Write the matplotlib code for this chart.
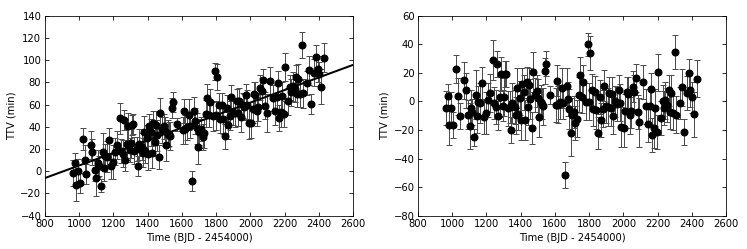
import numpy as np
import matplotlib
matplotlib.use('Agg')
import matplotlib.pyplot as plt

# transit times (BJD - 2454000) and TTV values (min)
time = [962, 975, 981, 993, 1006, 1020, 1032, 1043, 1067, 1078,
        1094, 1101, 1109, 1117, 1125, 1137, 1146, 1152, 1164, 1172,
        1187, 1199, 1207, 1222, 1238, 1246, 1257, 1263, 1269, 1281,
        1287, 1296, 1302, 1308, 1316, 1323, 1335, 1343, 1351, 1365,
        1374, 1378, 1386, 1394, 1401, 1409, 1419, 1427, 1434, 1440,
        1448, 1456, 1466, 1473, 1485, 1493, 1499, 1506, 1516, 1526,
        1532, 1540, 1547, 1573, 1604, 1610, 1617, 1627, 1639, 1648,
        1660, 1670, 1676, 1685, 1693, 1699, 1709, 1720, 1728, 1738,
        1748, 1756, 1765, 1783, 1791, 1798, 1806, 1814, 1822, 1834,
        1842, 1853, 1861, 1870, 1880, 1888, 1900, 1911, 1919, 1927,
        1934, 1942, 1954, 1964, 1972, 1981, 1989, 2001, 2012, 2020,
        2028, 2036, 2045, 2055, 2065, 2075, 2084, 2094, 2113, 2133,
        2145, 2153, 2162, 2168, 2178, 2183, 2195, 2203, 2219, 2230,
        2238, 2246, 2258, 2265, 2273, 2280, 2289, 2300, 2308, 2332,
        2340, 2355, 2371, 2381, 2392, 2400, 2413, 2429]

ttv = [-1.5, 7.2, -12.4, 0.3, -11.0, 28.8, 10.5, -2.8, 23.6, 17.2,
       1.2, -6.4, 7.0, 4.5, -13.0, 17.7, 3.2, 13.5, 13.2, 27.7,
       4.6, 8.3, 17.7, 23.6, 47.6, 18.0, 15.7, 46.0, 10.4, 24.1,
       40.4, 18.9, 25.3, 41.6, 42.1, 18.5, 20.2, 4.7, 24.1, 22.0,
       16.5, 35.7, 18.2, 29.7, 15.1, 40.5, 35.1, 16.6, 43.0, 26.3,
       41.8, 32.3, 12.9, 52.3, 37.0, 40.4, 35.8, 23.2, 33.8, 33.4,
       31.7, 57.2, 62.6, 42.1, 36.9, 54.3, 37.7, 40.2, 50.9, 40.5,
       -8.8, 53.8, 45.1, 38.6, 22.1, 35.4, 38.0, 30.7, 34.1, 51.7,
       66.3, 50.8, 62.3, 49.3, 89.8, 50.2, 84.7, 59.2, 46.6, 59.3,
       46.8, 31.4, 56.9, 41.4, 50.0, 66.5, 53.2, 52.8, 63.3, 52.7,
       63.2, 48.6, 59.3, 57.9, 68.4, 59.9, 43.4, 43.1, 55.7, 69.2,
       68.6, 54.1, 57.6, 75.2, 71.8, 82.4, 58.9, 52.5, 81.6, 65.8,
       54.5, 66.9, 79.5, 47.8, 53.4, 67.7, 51.4, 93.8, 62.8, 75.4,
       70.9, 76.4, 74.1, 84.5, 69.9, 83.3, 69.9, 113.5, 70.0, 79.4,
       90.8, 60.7, 88.6, 103.2, 91.9, 87.3, 76.1, 102.0]

err = [12, 9, 14, 11, 9, 10, 13, 9, 13, 12,
       10, 16, 12, 9, 6, 17, 12, 11, 14, 11,
       12, 15, 12, 13, 14, 11, 12, 9, 10, 14,
       12, 11, 13, 9, 9, 12, 11, 9, 14, 12,
       13, 14, 11, 12, 14, 11, 12, 14, 11, 13,
       12, 14, 11, 14, 12, 11, 13, 14, 12, 11,
       13, 9, 9, 6, 12, 11, 13, 12, 14, 11,
       9, 13, 12, 14, 16, 12, 11, 12, 13, 12,
       12, 11, 12, 13, 8, 13, 12, 11, 12, 11,
       13, 11, 12, 12, 13, 11, 12, 13, 11, 12,
       12, 13, 11, 12, 10, 13, 14, 13, 12, 11,
       12, 13, 12, 11, 12, 10, 12, 17, 12, 12,
       13, 12, 11, 12, 14, 13, 12, 13, 12, 11,
       12, 13, 12, 11, 12, 13, 12, 12, 13, 11,
       13, 9, 12, 10, 12, 11, 16, 13]

time = np.array(time)
ttv = np.array(ttv)
err = np.array(err)

# linear ephemeris drift and residuals
slope, icpt = np.polyfit(time, ttv, 1)
resid = ttv - (slope*time + icpt)

plt.rcParams['xtick.direction'] = 'in'
plt.rcParams['ytick.direction'] = 'in'
plt.rcParams['xtick.top'] = True
plt.rcParams['ytick.right'] = True
plt.rcParams['xtick.major.size'] = 4
plt.rcParams['ytick.major.size'] = 4
plt.rcParams['font.size'] = 10

fig = plt.figure(figsize=(747/72.0, 249/72.0), dpi=72)
ax1 = fig.add_axes([0.060, 0.134, 0.413, 0.803])
ax2 = fig.add_axes([0.5596, 0.134, 0.4123, 0.803])

style = dict(fmt='o', color='k', ms=7, ecolor='0.3', elinewidth=1,
             capsize=3, capthick=1)

ax1.errorbar(time, ttv, yerr=err, **style)
xx = np.array([800, 2600])
ax1.plot(xx, slope*xx + icpt, 'k-', lw=2)
ax1.set_xlim(800, 2600)
ax1.set_ylim(-40, 140)
ax1.set_yticks(np.arange(-40, 141, 20))
ax1.set_xticks(np.arange(800, 2601, 200))
ax1.set_xlabel('Time (BJD - 2454000)')
ax1.set_ylabel('TTV (min)')

ax2.errorbar(time, resid, yerr=err, **style)
ax2.set_xlim(800, 2600)
ax2.set_ylim(-80, 60)
ax2.set_yticks(np.arange(-80, 61, 20))
ax2.set_xticks(np.arange(800, 2601, 200))
ax2.set_xlabel('Time (BJD - 2454000)')
ax2.set_ylabel('TTV (min)')

fig.savefig('out.png', dpi=72)
